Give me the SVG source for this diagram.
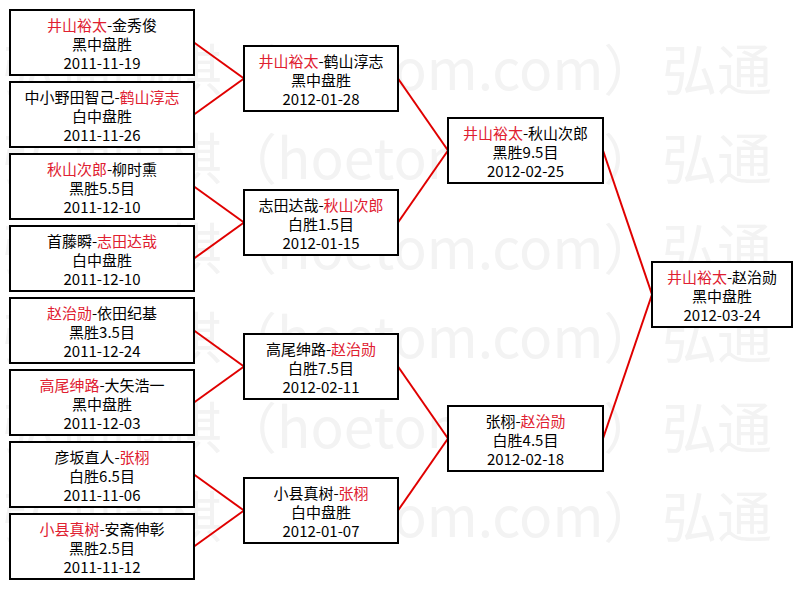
<svg xmlns="http://www.w3.org/2000/svg" width="801" height="589" viewBox="0 0 801 589">
<style>
.wm{font-family:"Noto Sans CJK SC","Noto Sans CJK JP",sans-serif;font-size:55px;fill:#f3f3f3}
.box{fill:#fff;stroke:#000;stroke-width:2}
.t{font-family:"Noto Sans CJK SC","Noto Sans CJK JP",sans-serif;font-size:15px;fill:#000;text-anchor:middle}
.r{fill:#e02030}
.con line{stroke:#e00000;stroke-width:2}
</style>
<rect width="801" height="589" fill="#fff"/>
<g id="watermark">
<text class="wm" x="2" y="90">弘通围棋（hoetom.com）</text><text class="wm" x="662" y="90">弘通</text>
<text class="wm" x="2" y="179">弘通围棋（hoetom.com）</text><text class="wm" x="662" y="179">弘通</text>
<text class="wm" x="2" y="269">弘通围棋（hoetom.com）</text><text class="wm" x="662" y="269">弘通</text>
<text class="wm" x="2" y="358">弘通围棋（hoetom.com）</text><text class="wm" x="662" y="358">弘通</text>
<text class="wm" x="2" y="448">弘通围棋（hoetom.com）</text><text class="wm" x="662" y="448">弘通</text>
<text class="wm" x="2" y="537">弘通围棋（hoetom.com）</text><text class="wm" x="662" y="537">弘通</text>
</g>
<g id="connectors" class="con">
<line x1="194" y1="42.5" x2="244" y2="78.5"/>
<line x1="194" y1="114.5" x2="244" y2="78.5"/>
<line x1="194" y1="186.5" x2="244" y2="222.5"/>
<line x1="194" y1="258.5" x2="244" y2="222.5"/>
<line x1="194" y1="330.5" x2="244" y2="366.5"/>
<line x1="194" y1="402.5" x2="244" y2="366.5"/>
<line x1="194" y1="474.5" x2="244" y2="510.5"/>
<line x1="194" y1="546.5" x2="244" y2="510.5"/>
<line x1="398" y1="78.5" x2="448" y2="150.5"/>
<line x1="398" y1="222.5" x2="448" y2="150.5"/>
<line x1="398" y1="366.5" x2="448" y2="438.5"/>
<line x1="398" y1="510.5" x2="448" y2="438.5"/>
<line x1="603" y1="150.5" x2="652" y2="294.5"/>
<line x1="603" y1="438.5" x2="652" y2="294.5"/>
</g>
<g id="r1m1"><rect class="box" x="10" y="10" width="184" height="65"/>
<text class="t" x="102" y="31"><tspan class="r">井山裕太</tspan>-金秀俊</text><text class="t" x="102" y="50">黑中盘胜</text><text class="t" x="102" y="69">2011-11-19</text></g>
<g id="r1m2"><rect class="box" x="10" y="82" width="184" height="65"/>
<text class="t" x="102" y="103">中小野田智己-<tspan class="r">鹤山淳志</tspan></text><text class="t" x="102" y="122">白中盘胜</text><text class="t" x="102" y="141">2011-11-26</text></g>
<g id="r1m3"><rect class="box" x="10" y="154" width="184" height="65"/>
<text class="t" x="102" y="175"><tspan class="r">秋山次郎</tspan>-柳时熏</text><text class="t" x="102" y="194">黑胜5.5目</text><text class="t" x="102" y="213">2011-12-10</text></g>
<g id="r1m4"><rect class="box" x="10" y="226" width="184" height="65"/>
<text class="t" x="102" y="247">首藤瞬-<tspan class="r">志田达哉</tspan></text><text class="t" x="102" y="266">白中盘胜</text><text class="t" x="102" y="285">2011-12-10</text></g>
<g id="r1m5"><rect class="box" x="10" y="298" width="184" height="65"/>
<text class="t" x="102" y="319"><tspan class="r">赵治勋</tspan>-依田纪基</text><text class="t" x="102" y="338">黑胜3.5目</text><text class="t" x="102" y="357">2011-12-24</text></g>
<g id="r1m6"><rect class="box" x="10" y="370" width="184" height="65"/>
<text class="t" x="102" y="391"><tspan class="r">高尾绅路</tspan>-大矢浩一</text><text class="t" x="102" y="410">黑中盘胜</text><text class="t" x="102" y="429">2011-12-03</text></g>
<g id="r1m7"><rect class="box" x="10" y="442" width="184" height="65"/>
<text class="t" x="102" y="463">彦坂直人-<tspan class="r">张栩</tspan></text><text class="t" x="102" y="482">白胜6.5目</text><text class="t" x="102" y="501">2011-11-06</text></g>
<g id="r1m8"><rect class="box" x="10" y="514" width="184" height="65"/>
<text class="t" x="102" y="535"><tspan class="r">小县真树</tspan>-安斋伸彰</text><text class="t" x="102" y="554">黑胜2.5目</text><text class="t" x="102" y="573">2011-11-12</text></g>
<g id="r2m1"><rect class="box" x="244" y="46" width="154" height="65"/>
<text class="t" x="321" y="67"><tspan class="r">井山裕太</tspan>-鹤山淳志</text><text class="t" x="321" y="86">黑中盘胜</text><text class="t" x="321" y="105">2012-01-28</text></g>
<g id="r2m2"><rect class="box" x="244" y="190" width="154" height="65"/>
<text class="t" x="321" y="211">志田达哉-<tspan class="r">秋山次郎</tspan></text><text class="t" x="321" y="230">白胜1.5目</text><text class="t" x="321" y="249">2012-01-15</text></g>
<g id="r2m3"><rect class="box" x="244" y="334" width="154" height="65"/>
<text class="t" x="321" y="355">高尾绅路-<tspan class="r">赵治勋</tspan></text><text class="t" x="321" y="374">白胜7.5目</text><text class="t" x="321" y="393">2012-02-11</text></g>
<g id="r2m4"><rect class="box" x="244" y="478" width="154" height="65"/>
<text class="t" x="321" y="499">小县真树-<tspan class="r">张栩</tspan></text><text class="t" x="321" y="518">白中盘胜</text><text class="t" x="321" y="537">2012-01-07</text></g>
<g id="r3m1"><rect class="box" x="448" y="118" width="155" height="65"/>
<text class="t" x="525.5" y="139"><tspan class="r">井山裕太</tspan>-秋山次郎</text><text class="t" x="525.5" y="158">黑胜9.5目</text><text class="t" x="525.5" y="177">2012-02-25</text></g>
<g id="r3m2"><rect class="box" x="448" y="406" width="155" height="65"/>
<text class="t" x="525.5" y="427">张栩-<tspan class="r">赵治勋</tspan></text><text class="t" x="525.5" y="446">白胜4.5目</text><text class="t" x="525.5" y="465">2012-02-18</text></g>
<g id="final"><rect class="box" x="652" y="262" width="140" height="65"/>
<text class="t" x="722" y="283"><tspan class="r">井山裕太</tspan>-赵治勋</text><text class="t" x="722" y="302">黑中盘胜</text><text class="t" x="722" y="321">2012-03-24</text></g>
</svg>
